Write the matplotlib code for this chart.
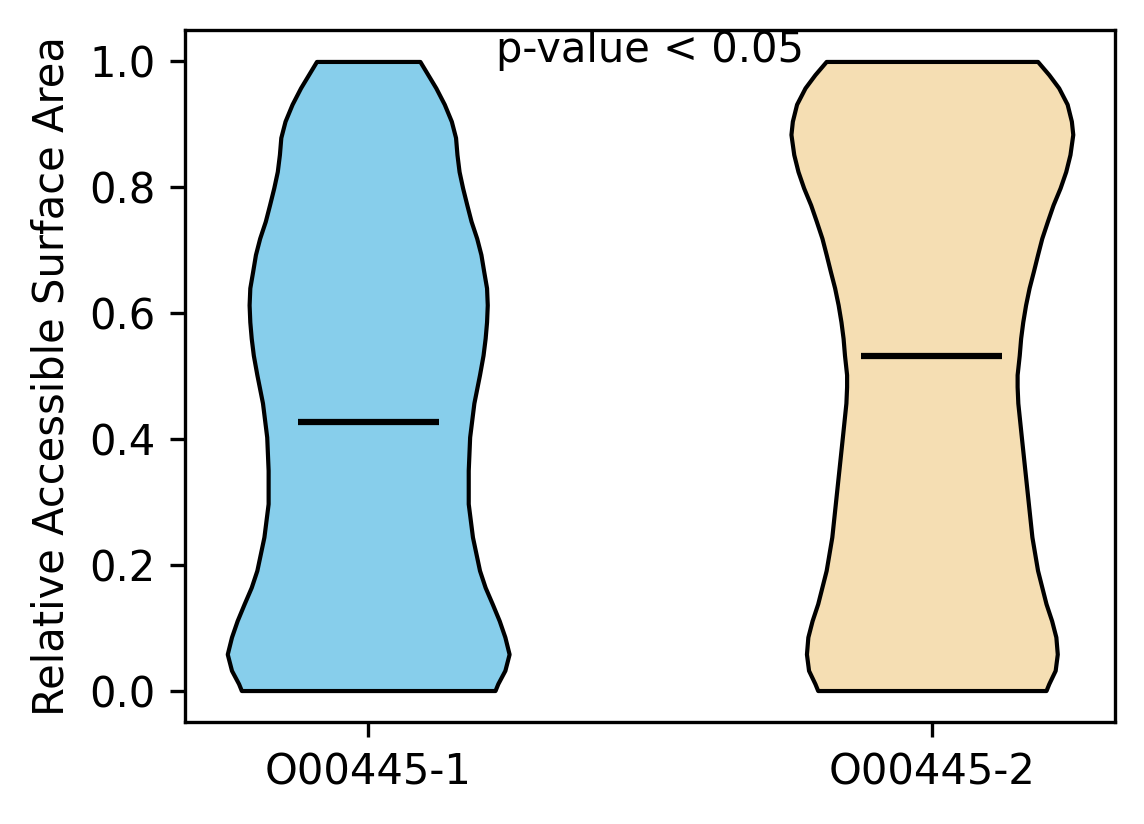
import matplotlib
matplotlib.use('Agg')
import matplotlib.pyplot as plt
import numpy as np

# groups and their colours
labels = ['O00445-1', 'O00445-2']
colors = ['skyblue', 'wheat']

# violin outline: y level -> relative half width
coords1 = [0.0, 0.011, 0.032, 0.058, 0.085, 0.111, 0.138, 0.164, 0.191, 0.244,
           0.297, 0.350, 0.403, 0.457, 0.502, 0.533, 0.560, 0.586, 0.613,
           0.640, 0.666, 0.693, 0.719, 0.746, 0.772, 0.799, 0.825, 0.852,
           0.879, 0.905, 0.932, 0.958, 1.0]
dens1 = [0.90, 0.92, 0.97, 1.0, 0.97, 0.93, 0.88, 0.83, 0.79, 0.74,
         0.71, 0.71, 0.72, 0.75, 0.79, 0.815, 0.83, 0.84, 0.845,
         0.84, 0.82, 0.80, 0.77, 0.73, 0.70, 0.67, 0.645, 0.63,
         0.62, 0.59, 0.54, 0.48, 0.367]

coords2 = [0.0, 0.011, 0.032, 0.058, 0.085, 0.111, 0.138, 0.191, 0.244, 0.297,
           0.350, 0.403, 0.457, 0.483, 0.502, 0.533, 0.560, 0.586, 0.613,
           0.640, 0.666, 0.693, 0.719, 0.746, 0.772, 0.799, 0.825, 0.852,
           0.884, 0.905, 0.932, 0.958, 0.979, 1.0]
dens2 = [0.81, 0.83, 0.875, 0.89, 0.88, 0.85, 0.81, 0.75, 0.71, 0.685,
         0.66, 0.635, 0.61, 0.605, 0.605, 0.62, 0.63, 0.645, 0.665,
         0.69, 0.72, 0.75, 0.78, 0.82, 0.86, 0.91, 0.95, 0.98,
         1.0, 0.99, 0.96, 0.90, 0.83, 0.75]

means = [0.427, 0.532]

stats = []
for c, d, m in zip([coords1, coords2], [dens1, dens2], means):
    stats.append({'coords': np.array(c), 'vals': np.array(d), 'mean': m,
                  'median': m, 'min': 0.0, 'max': 1.0, 'quantiles': []})

fig = plt.figure(figsize=(11.44/3, 8.24/3), dpi=300)
ax = fig.add_axes([0.1617, 0.1238, 0.813, 0.8398])

parts = ax.violin(stats, positions=[1, 2], widths=0.5,
                  showmeans=True, showextrema=False, showmedians=False)
for pc, col in zip(parts['bodies'], colors):
    pc.set_facecolor(col)
    pc.set_edgecolor('black')
    pc.set_linewidth(1)
    pc.set_alpha(1)
parts['cmeans'].set_color('black')
parts['cmeans'].set_linewidth(1.5)

ax.set_xticks([1, 2])
ax.set_xticklabels(labels)
ax.set_ylabel('Relative Accessible Surface Area')
ax.text(1.5, 0.985, 'p-value < 0.05', ha='center', va='bottom')

fig.savefig('out.png', dpi=300)
